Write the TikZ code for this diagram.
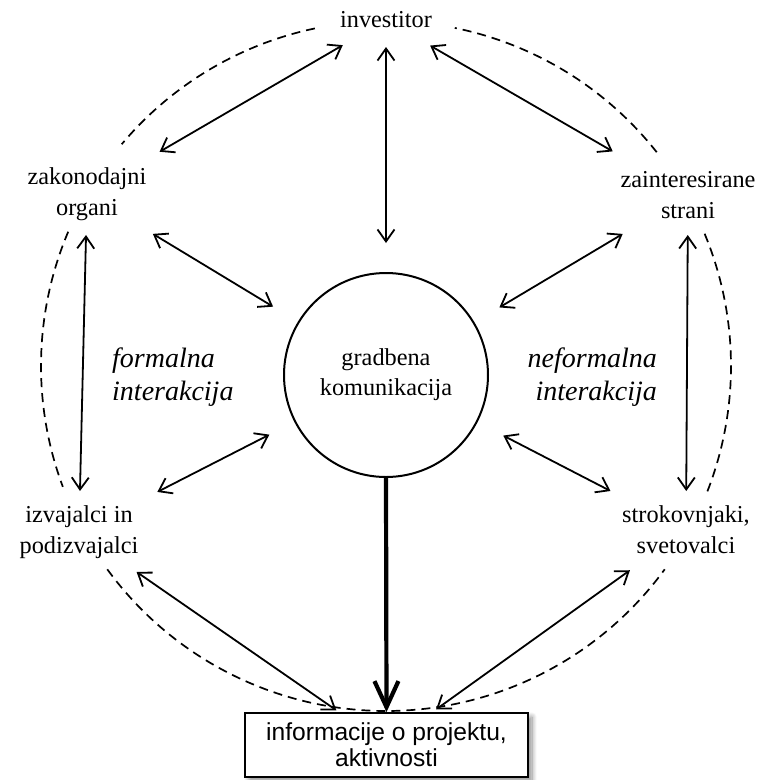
\documentclass[tikz,border=0pt]{standalone}
\usepackage{fontspec}
\setmainfont{Liberation Serif}
\newfontfamily\boxfont{Liberation Sans}
\usetikzlibrary{arrows.meta,shadows.blur,backgrounds}

\begin{document}
\begin{tikzpicture}[x=1pt,y=-1pt,
  actor/.style={align=center,inner sep=0pt,font=\fontsize{24.3}{31}\selectfont},
  remark/.style={inner sep=0pt,font=\fontsize{28}{33}\selectfont\itshape},
  hub/.style={circle,draw,line width=2pt,minimum size=204pt,inner sep=0pt,
    align=center,font=\fontsize{24.3}{30}\selectfont},
  outbox/.style={draw,fill=white,line width=1.8pt,minimum width=283pt,
    minimum height=64pt,inner sep=0pt,align=center,
    font=\boxfont\fontsize{24.6}{26}\selectfont,
    blur shadow={shadow xshift=4pt,shadow yshift=-4pt,shadow blur radius=5pt,
      shadow blur steps=10,shadow opacity=45}},
  link/.style={line width=1.8pt,
    {Straight Barb[length=12pt,width=17pt]}-{Straight Barb[length=12pt,width=17pt]}},
  flow/.style={line width=4.2pt,-{Straight Barb[length=26pt,width=24pt]}},
  orbit/.style={line width=1.7pt,dash pattern=on 9pt off 6pt}
]
\useasboundingbox (0,0) rectangle (768,780);

% participants
\node[actor] (inv) at (386,20) {investitor};
\node[actor] (zak) at (87,194) {zakonodajni\\organi};
\node[actor] (zai) at (688,195) {zainteresirane\\strani};
\node[actor] (izv) at (79,532) {izvajalci in\\podizvajalci};
\node[actor] (str) at (686,530) {strokovnjaki,\\svetovalci};

% interaction kinds
\node[remark,anchor=west,align=left] (formal) at (112,377) {formalna\\interakcija};
\node[remark,anchor=east,align=right] (informal) at (657,377) {neformalna\\interakcija};

% centre and output
\node[hub] (hub) at (386,375) {gradbena\\komunikacija};
\node[outbox] (out) at (386.5,745) {informacije o projektu,\\aktivnosti};

% dashed ring around the participants
\coordinate (ring) at (386,366);
\begin{scope}[on background layer]
\draw[orbit] (ring) ++(101.9:345pt) arc[start angle=101.9,end angle=140,radius=345pt];
\draw[orbit] (ring) ++(38.3:345pt) arc[start angle=38.3,end angle=78.5,radius=345pt];
\draw[orbit] (ring) ++(157.1:345pt) arc[start angle=157.1,end angle=200.5,radius=345pt];
\draw[orbit] (ring) ++(-21.3:345pt) arc[start angle=-21.3,end angle=22.9,radius=345pt];
\draw[orbit] (ring) ++(216.1:345pt) arc[start angle=216.1,end angle=323.9,radius=345pt];
\end{scope}

% two-way connections
\draw[link,shorten <=50pt,shorten >=84pt] (inv.center) -- (zak.center);
\draw[link,shorten <=27pt,shorten >=132pt] (inv.center) -- (hub.center);
\draw[link,shorten <=51pt,shorten >=87pt] (inv.center) -- (zai.center);
\draw[link,shorten <=77pt,shorten >=132pt] (zak.center) -- (hub.center);
\draw[link,shorten <=76pt,shorten >=132pt] (zai.center) -- (hub.center);
\draw[link,shorten <=41pt,shorten >=41pt] (zak.center) -- (izv.center);
\draw[link,shorten <=40pt,shorten >=39pt] (zai.center) -- (str.center);
\draw[link,shorten <=88pt,shorten >=131pt] (izv.center) -- (hub.center);
\draw[link,shorten <=85pt,shorten >=132pt] (str.center) -- (hub.center);
\draw[link,shorten <=70pt,shorten >=61pt] (izv.center) -- (out.center);
\draw[link,shorten <=69pt,shorten >=61pt] (str.center) -- (out.center);

% main flow into the output
\draw[flow] (hub.south) -- (out.north);
\end{tikzpicture}
\end{document}
